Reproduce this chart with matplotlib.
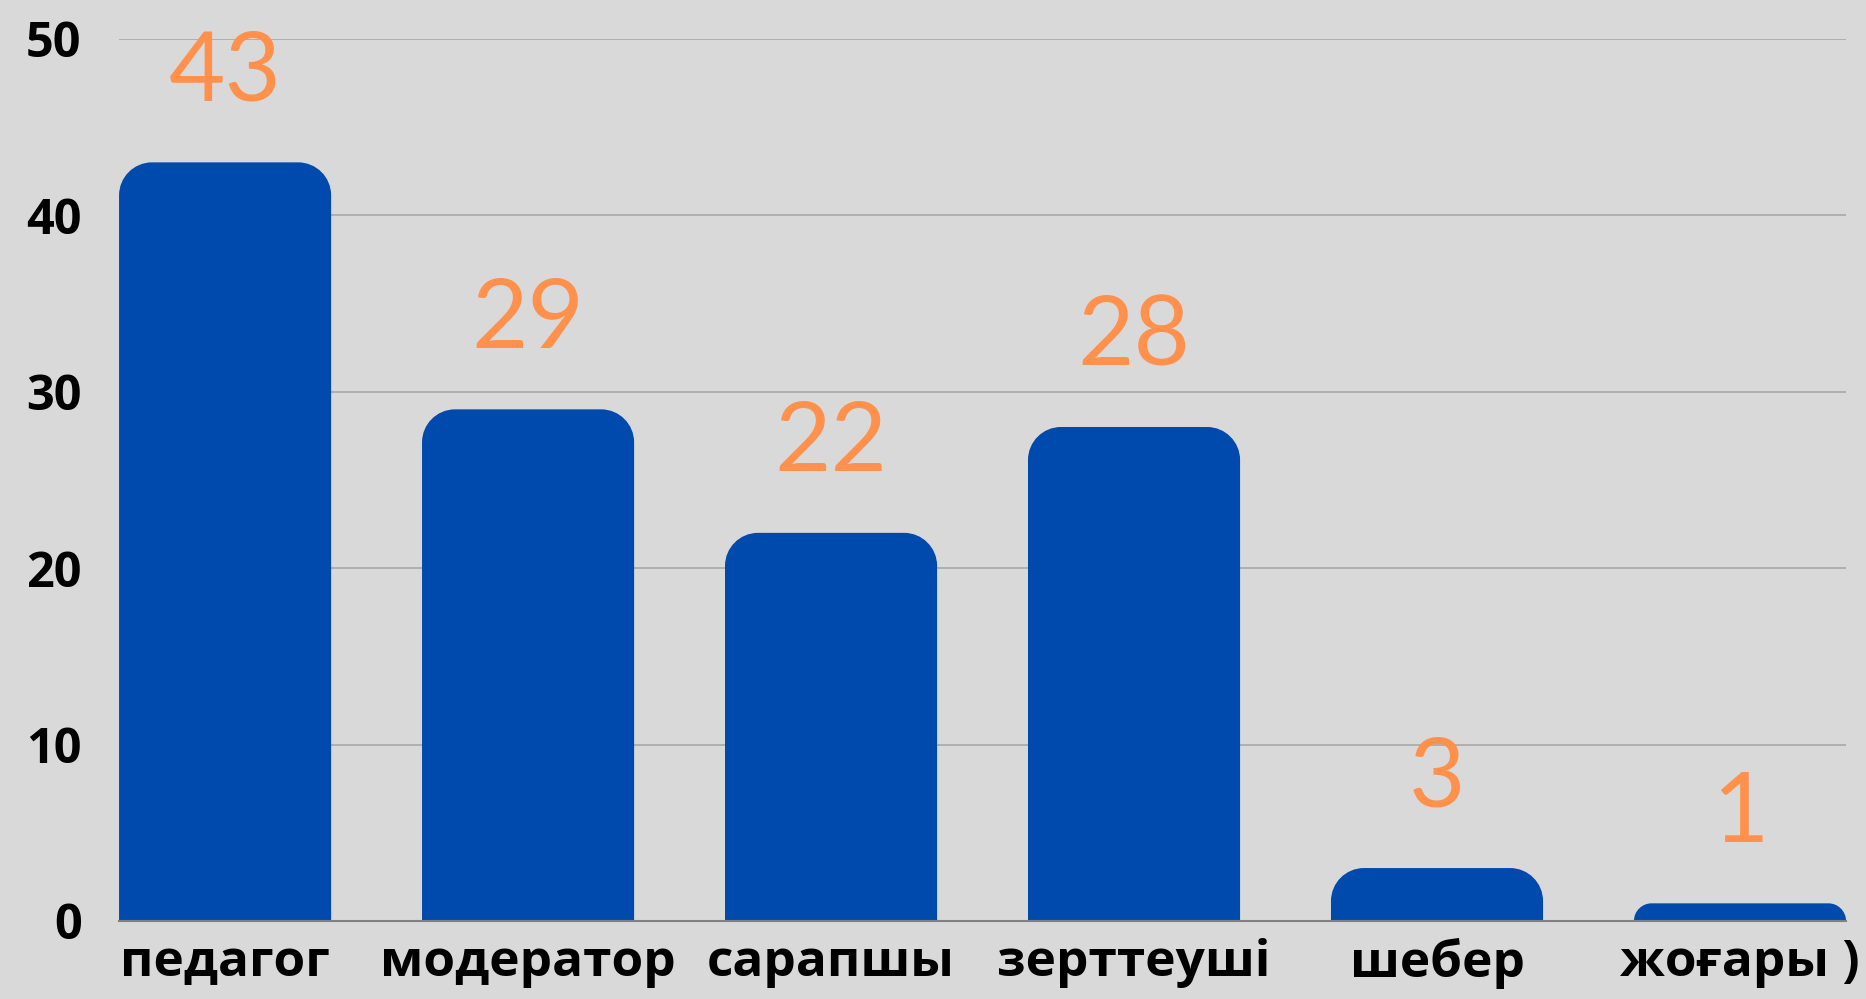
import matplotlib
matplotlib.use("Agg")
import matplotlib.pyplot as plt
from matplotlib.path import Path
from matplotlib.patches import PathPatch

categories = ["педагог", "модератор", "сарапшы", "зерттеуші", "шебер", "жоғары )"]
values = [43, 29, 22, 28, 3, 1]
yticks = [0, 10, 20, 30, 40, 50]

BG = "#D9D9D9"
BAR = "#004AAD"
ORANGE = "#FF914D"

fig = plt.figure(figsize=(18.66, 9.99), dpi=100, facecolor=BG)
ax = fig.add_axes([0.0638, 0.0781, 0.9255, 0.8830], facecolor=BG)

bars = ax.bar(range(len(categories)), values, width=0.7, color=BAR, zorder=3)
ax.set_xlim(-0.35, len(categories) - 1 + 0.35)
ax.set_ylim(0, 50)

fig.canvas.draw()
bbox = ax.get_window_extent()
px_x = bbox.width / (ax.get_xlim()[1] - ax.get_xlim()[0])
px_y = bbox.height / (ax.get_ylim()[1] - ax.get_ylim()[0])
R = 33.0
k = 0.5523
for rect in bars:
    x0 = rect.get_x()
    x1 = x0 + rect.get_width()
    h = rect.get_height()
    r = min(R, h * px_y)
    rx = r / px_x
    ry = r / px_y
    verts = [(x0, 0), (x0, h - ry), (x0, h - ry + k * ry), (x0 + rx - k * rx, h), (x0 + rx, h),
             (x1 - rx, h), (x1 - rx + k * rx, h), (x1, h - ry + k * ry), (x1, h - ry),
             (x1, 0), (x0, 0)]
    codes = [Path.MOVETO, Path.LINETO, Path.CURVE4, Path.CURVE4, Path.CURVE4,
             Path.LINETO, Path.CURVE4, Path.CURVE4, Path.CURVE4, Path.LINETO, Path.CLOSEPOLY]
    ax.add_patch(PathPatch(Path(verts, codes), facecolor=BAR, edgecolor="none", zorder=3))
    rect.set_visible(False)
    ax.text(x0 + rect.get_width() / 2, h + 3.5, str(int(h)), ha="center", va="baseline",
            color=ORANGE, fontsize=70, family="Lato", fontweight="normal", zorder=4, clip_on=False)

ax.set_yticks(yticks)
ax.set_yticklabels([str(t) for t in yticks], fontsize=35, fontweight="bold", family="Open Sans")
ax.set_xticks(range(len(categories)))
ax.set_xticklabels(categories, fontsize=37, fontweight="bold", family="Open Sans")
ax.tick_params(axis="both", length=0, colors="black")
ax.tick_params(axis="y", pad=27)
ax.tick_params(axis="x", pad=12)
ax.grid(axis="y", color="#A8A8A8", linewidth=1.2, zorder=1)
ax.set_axisbelow(True)
for s in ["top", "right", "left"]:
    ax.spines[s].set_visible(False)
ax.spines["bottom"].set_color("#808080")
ax.spines["bottom"].set_linewidth(1.5)
ax.spines["bottom"].set_zorder(5)

fig.savefig("out.png", dpi=100, facecolor=BG)
